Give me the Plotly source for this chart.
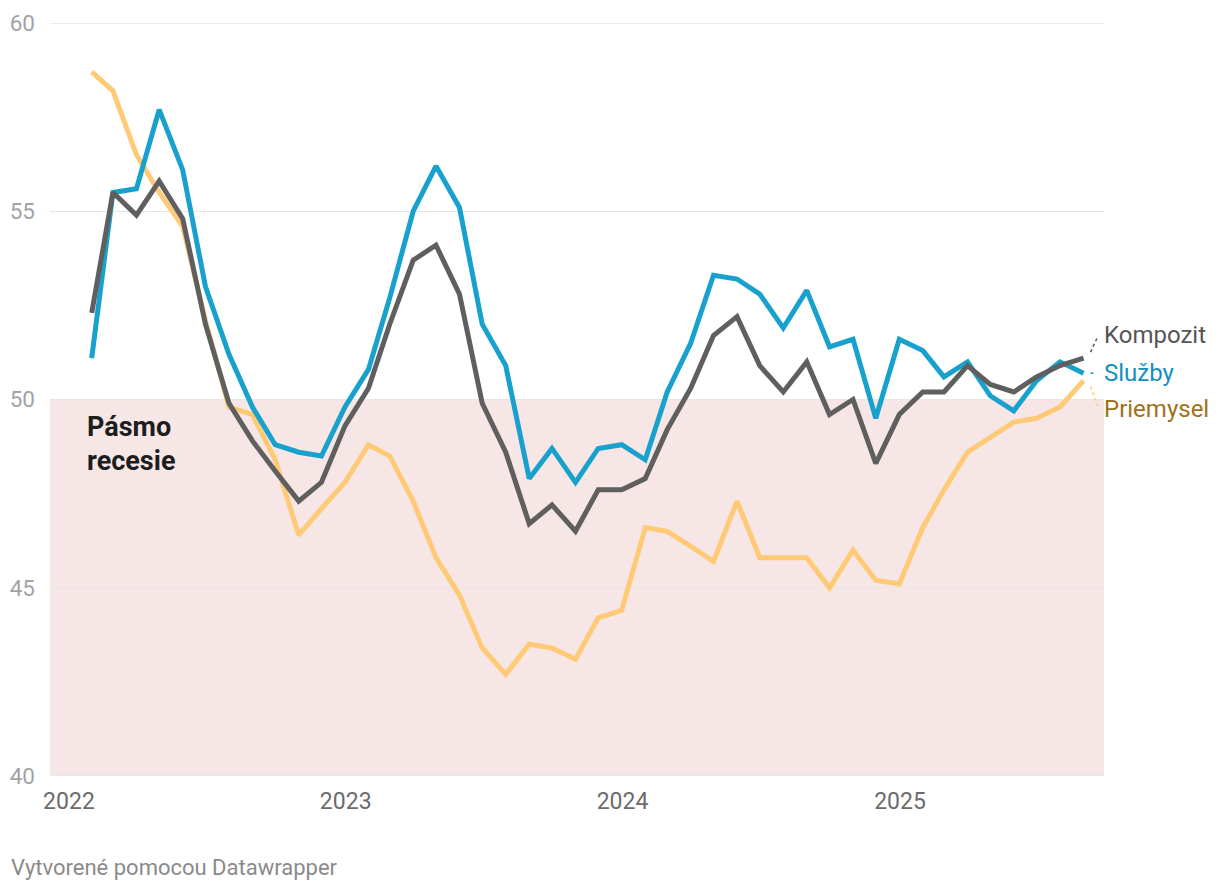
import calendar
import plotly.graph_objects as go

# ---------------- data ----------------
# monthly observations (dated to the last day of each month), Jan 2022 – Aug 2025
months = [f"{y}-{m:02d}-{calendar.monthrange(y, m)[1]:02d}"
          for y in range(2022, 2026) for m in range(1, 13)][:44]

kompozit = [52.3, 55.5, 54.9, 55.8, 54.8, 52.0, 49.9, 48.9, 48.1, 47.3, 47.8, 49.3,
            50.3, 52.0, 53.7, 54.1, 52.8, 49.9, 48.6, 46.7, 47.2, 46.5, 47.6, 47.6,
            47.9, 49.2, 50.3, 51.7, 52.2, 50.9, 50.2, 51.0, 49.6, 50.0, 48.3, 49.6,
            50.2, 50.2, 50.9, 50.4, 50.2, 50.6, 50.9, 51.1]
sluzby = [51.1, 55.5, 55.6, 57.7, 56.1, 53.0, 51.2, 49.8, 48.8, 48.6, 48.5, 49.8,
          50.8, 52.7, 55.0, 56.2, 55.1, 52.0, 50.9, 47.9, 48.7, 47.8, 48.7, 48.8,
          48.4, 50.2, 51.5, 53.3, 53.2, 52.8, 51.9, 52.9, 51.4, 51.6, 49.5, 51.6,
          51.3, 50.6, 51.0, 50.1, 49.7, 50.5, 51.0, 50.7]
priemysel = [58.7, 58.2, 56.5, 55.5, 54.6, 52.1, 49.8, 49.6, 48.4, 46.4, 47.1, 47.8,
             48.8, 48.5, 47.3, 45.8, 44.8, 43.4, 42.7, 43.5, 43.4, 43.1, 44.2, 44.4,
             46.6, 46.5, 46.1, 45.7, 47.3, 45.8, 45.8, 45.8, 45.0, 46.0, 45.2, 45.1,
             46.6, 47.6, 48.6, 49.0, 49.4, 49.5, 49.8, 50.5]

series_names = ["Priemysel", "Služby", "Kompozit"]
y_ticks = [40, 45, 50, 55, 60]
y_range = [40, 60]
x_tick_vals = ["2022-01-01", "2023-01-01", "2024-01-01", "2025-01-01"]
x_tick_text = ["2022", "2023", "2024", "2025"]
recession_band = (40, 50)
recession_label = ["Pásmo", "recesie"]
footer = "Vytvorené pomocou Datawrapper"

# ---------------- style ----------------
FONT = "Roboto"
GRID = "#e6e6e6"
line_colors = {"Priemysel": "#ffca76", "Služby": "#18a1cd", "Kompozit": "#5f5f5f"}
label_colors = {"Priemysel": "#a0711c", "Služby": "#1290c0", "Kompozit": "#555555"}
label_yshift = {"Priemysel": -28, "Služby": 0, "Kompozit": 23}
values = {"Priemysel": priemysel, "Služby": sluzby, "Kompozit": kompozit}

fig = go.Figure()
for name in series_names:
    fig.add_trace(go.Scatter(
        x=months, y=values[name], mode="lines", name=name,
        line=dict(color=line_colors[name], width=5),
        hoverinfo="x+y+name",
    ))

# recession band
fig.add_shape(type="rect", xref="paper", yref="y", x0=0, x1=1,
              y0=recession_band[0], y1=recession_band[1],
              fillcolor="#f7e6e6", line_width=0, layer="below")

# gridlines on the range edges (plotly hides those by itself)
for yv in (y_range[0], y_range[1]):
    fig.add_shape(type="line", xref="paper", yref="y", x0=0, x1=1, y0=yv, y1=yv,
                  line=dict(color=GRID, width=1.3), layer="below")

# end labels with dotted connectors
last_x = months[-1]
for name in series_names:
    last_y = values[name][-1]
    ys = label_yshift[name]
    fig.add_shape(type="line", xref="x", yref="y",
                  xsizemode="pixel", ysizemode="pixel",
                  xanchor=last_x, yanchor=last_y,
                  x0=7, x1=13 if ys == 0 else 14,
                  y0=0 if ys == 0 else (6 if ys > 0 else -6),
                  y1=0 if ys == 0 else (ys - 2 if ys > 0 else ys + 3),
                  line=dict(color=line_colors[name], width=1.6, dash="dot"))
    fig.add_annotation(x=last_x, y=last_y, xref="x", yref="y",
                       text=name, showarrow=False, xanchor="left", yanchor="middle",
                       xshift=18, yshift=ys,
                       font=dict(family=FONT, size=24, color=label_colors[name]))

# recession text
for i, t in enumerate(recession_label):
    fig.add_annotation(xref="paper", yref="paper", x=0.033, y=[0.4635, 0.4183][i],
                       text=f"<b>{t}</b>", showarrow=False,
                       xanchor="left", yanchor="middle",
                       font=dict(family=FONT, size=27, color="#1d1d1d"))

# footer
fig.add_annotation(xref="paper", yref="paper", x=-0.039, y=-0.122,
                   text=footer, showarrow=False, xanchor="left", yanchor="middle",
                   font=dict(family=FONT, size=22, color="#8a8a8a"))

# page has an 8px body margin, so the figure is shifted back by that amount
fig.update_layout(
    width=1212, height=884,
    margin=dict(l=42, r=116, t=15, b=116, autoexpand=False),
    paper_bgcolor="white", plot_bgcolor="white",
    showlegend=False,
    font=dict(family=FONT),
    xaxis=dict(type="date", range=["2021-12-07", "2025-09-27"],
               tickvals=x_tick_vals, ticktext=x_tick_text, automargin=False,
               showgrid=False, zeroline=False, showline=False, ticks="",
               tickfont=dict(family=FONT, size=23, color="#6b6b6b"),
               ticklabelstandoff=9),
    yaxis=dict(range=y_range, tickvals=y_ticks, showgrid=True, automargin=False,
               gridcolor=GRID, gridwidth=1.3, zeroline=False, showline=False,
               ticks="", tickfont=dict(family=FONT, size=22.5, color="#a3a3a3"),
               ticklabelstandoff=14),
)

fig.write_html("out.html")
